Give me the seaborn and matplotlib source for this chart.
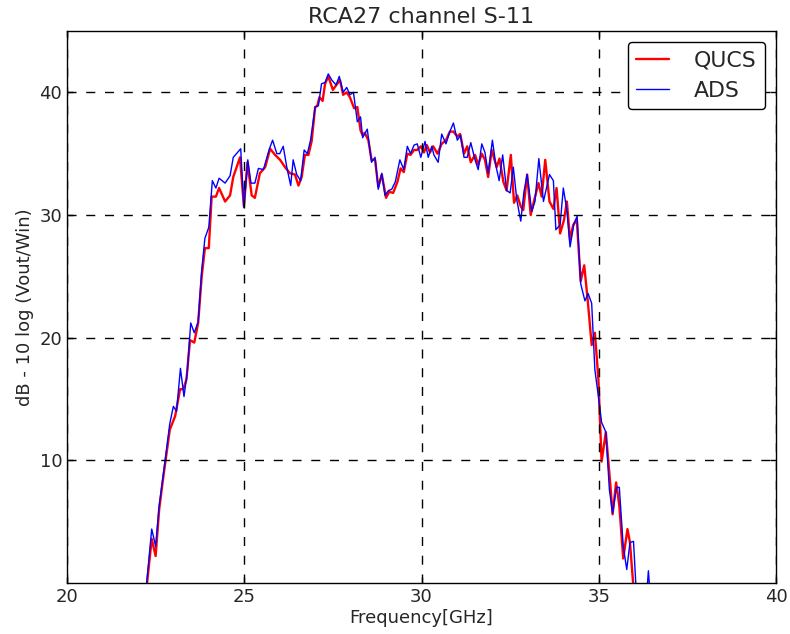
import pandas as pd
import seaborn as sns
import matplotlib
matplotlib.use("Agg")
import matplotlib.pyplot as plt

# frequency points (GHz) and levels (dB)
qucs_freq = [
    22.15, 22.39, 22.50, 22.60, 22.71, 22.81, 22.90, 23.05, 23.19, 23.28,
    23.37, 23.47, 23.59, 23.70, 23.80, 23.89, 24.00, 24.08, 24.20, 24.29,
    24.46, 24.60, 24.69, 24.88, 24.99, 25.09, 25.21, 25.30, 25.44, 25.59,
    25.73, 25.87, 26.01, 26.15, 26.29, 26.43, 26.53, 26.62, 26.71, 26.81,
    26.90, 27.00, 27.06, 27.12, 27.21, 27.28, 27.37, 27.50, 27.61, 27.70,
    27.79, 27.89, 27.98, 28.10, 28.19, 28.28, 28.34, 28.40, 28.50, 28.59,
    28.69, 28.78, 28.88, 29.00, 29.09, 29.20, 29.32, 29.41, 29.50, 29.60,
    29.69, 29.79, 29.88, 29.98, 30.07, 30.15, 30.24, 30.33, 30.45, 30.57,
    30.69, 30.80, 30.90, 31.01, 31.09, 31.20, 31.29, 31.39, 31.51, 31.60,
    31.70, 31.79, 31.88, 31.98, 32.12, 32.20, 32.31, 32.40, 32.52, 32.61,
    32.70, 32.80, 32.87, 32.98, 33.08, 33.17, 33.30, 33.39, 33.49, 33.61,
    33.72, 33.81, 33.91, 34.02, 34.10, 34.19, 34.28, 34.38, 34.49, 34.59,
    34.69, 34.80, 34.89, 34.99, 35.08, 35.20, 35.33, 35.39, 35.49, 35.58,
    35.69, 35.81, 35.88, 36.05,
]
qucs_db = [
    -3.0, 3.6, 2.2, 6.0, 8.5, 10.6, 12.5, 13.6, 15.8, 15.8,
    16.6, 19.8, 19.6, 21.2, 25.0, 27.3, 27.3, 31.5, 31.5, 32.2,
    31.1, 31.6, 33.1, 34.7, 30.7, 34.3, 31.6, 31.4, 33.4, 33.9,
    35.4, 34.9, 34.5, 33.9, 33.4, 33.3, 32.4, 33.1, 34.9, 34.9,
    36.0, 38.8, 38.9, 39.6, 39.3, 40.7, 41.3, 40.2, 40.65, 41.0,
    39.8, 40.0, 39.6, 38.7, 38.8, 36.9, 36.5, 36.7, 36.1, 34.5,
    34.5, 32.3, 33.3, 31.4, 31.9, 31.8, 32.7, 33.8, 33.5, 35.0,
    34.9, 35.3, 35.3, 35.6, 35.1, 35.7, 35.1, 35.6, 35.0, 35.8,
    36.1, 36.8, 36.8, 36.4, 36.6, 35.0, 35.6, 34.3, 34.9, 34.1,
    35.0, 34.5, 33.1, 35.3, 33.9, 34.6, 32.7, 32.0, 34.9, 31.0,
    31.6, 30.7, 30.4, 33.3, 30.0, 31.1, 32.6, 31.5, 34.5, 31.1,
    30.5, 32.2, 28.5, 29.6, 31.1, 28.0, 29.2, 29.6, 24.6, 25.9,
    23.0, 19.4, 20.4, 16.6, 9.9, 12.3, 7.9, 5.6, 8.2, 6.3,
    2.0, 4.4, 3.3, -3.0,
]

ads_freq = [
    22.15, 22.39, 22.50, 22.60, 22.71, 22.81, 22.90, 23.00, 23.09, 23.20,
    23.30, 23.39, 23.49, 23.59, 23.70, 23.80, 23.89, 24.00, 24.10, 24.20,
    24.29, 24.46, 24.60, 24.69, 24.90, 24.99, 25.10, 25.19, 25.30, 25.40,
    25.54, 25.71, 25.80, 25.92, 26.00, 26.10, 26.20, 26.31, 26.38, 26.48,
    26.59, 26.69, 26.78, 26.87, 27.00, 27.09, 27.18, 27.28, 27.37, 27.47,
    27.59, 27.68, 27.79, 27.89, 27.98, 28.08, 28.19, 28.28, 28.34, 28.47,
    28.59, 28.69, 28.78, 28.88, 28.97, 29.07, 29.16, 29.26, 29.39, 29.50,
    29.60, 29.69, 29.79, 29.88, 29.98, 30.10, 30.19, 30.29, 30.35, 30.47,
    30.57, 30.69, 30.80, 30.90, 31.01, 31.10, 31.20, 31.29, 31.39, 31.51,
    31.60, 31.70, 31.79, 31.88, 32.00, 32.10, 32.19, 32.29, 32.40, 32.50,
    32.59, 32.69, 32.80, 32.89, 32.98, 33.11, 33.20, 33.31, 33.44, 33.61,
    33.72, 33.79, 33.91, 34.00, 34.10, 34.19, 34.30, 34.39, 34.49, 34.61,
    34.70, 34.80, 34.89, 34.99, 35.08, 35.20, 35.30, 35.39, 35.50, 35.58,
    35.69, 35.79, 35.88, 35.98, 36.10, 36.30, 36.40, 36.50,
]
ads_db = [
    -3.0, 4.4, 3.0, 6.3, 8.7, 11.0, 13.0, 14.4, 14.0, 17.5,
    15.2, 17.1, 21.2, 20.4, 21.3, 25.5, 28.1, 29.0, 32.8, 32.2,
    33.0, 32.6, 33.2, 34.7, 35.4, 30.6, 34.5, 32.6, 32.6, 33.8,
    33.7, 35.4, 36.1, 35.0, 35.0, 35.6, 33.9, 32.4, 34.5, 33.3,
    32.8, 35.3, 35.0, 36.1, 38.8, 38.9, 40.7, 40.8, 41.5, 41.0,
    40.6, 41.3, 40.0, 40.4, 39.8, 40.0, 37.6, 38.0, 36.3, 37.0,
    34.3, 34.7, 32.1, 33.4, 31.6, 32.0, 32.1, 32.7, 34.5, 33.7,
    35.6, 35.0, 35.7, 35.8, 34.7, 36.0, 34.7, 35.6, 34.9, 34.3,
    36.6, 35.8, 36.8, 37.5, 36.1, 36.5, 34.7, 34.7, 35.9, 34.5,
    33.7, 35.8, 35.1, 33.4, 36.1, 34.0, 32.8, 34.9, 32.0, 31.8,
    33.9, 31.2, 29.5, 31.9, 33.3, 30.3, 31.1, 34.6, 31.1, 33.3,
    32.8, 28.8, 29.2, 32.2, 30.4, 27.4, 29.3, 29.9, 24.4, 23.0,
    23.6, 22.8, 17.4, 15.2, 13.1, 12.3, 7.6, 5.7, 7.8, 7.8,
    3.0, 1.1, 3.3, 3.4, -3.0, -3.0, 1.0, -3.0,
]

sns.set_style("white")
plt.rcParams["font.family"] = ["DejaVu Sans"]
plt.rcParams["xtick.direction"] = "in"
plt.rcParams["ytick.direction"] = "in"

qucs_df = pd.DataFrame({"freq": qucs_freq, "db": qucs_db})
ads_df = pd.DataFrame({"freq": ads_freq, "db": ads_db})

fig = plt.figure(figsize=(7.9, 6.34), dpi=100)
ax = fig.add_axes([0.0848, 0.0804, 0.8975, 0.8707])

sns.lineplot(x="freq", y="db", data=qucs_df, ax=ax, color="#ff0000",
             linewidth=1.7, label="QUCS", sort=False)
sns.lineplot(x="freq", y="db", data=ads_df, ax=ax, color="#0000ff",
             linewidth=1.0, label="ADS", sort=False)

ax.set_xlim(20, 40)
ax.set_ylim(0, 45)
ax.set_xticks([20, 25, 30, 35, 40])
ax.set_yticks([10, 20, 30, 40])
ax.tick_params(labelsize=13, length=4, width=1, color="black",
               top=True, right=True, bottom=True, left=True)
ax.set_axisbelow(False)
ax.grid(True, color="black", linestyle=(0, (6.5, 7)), linewidth=1.0)
for spine in ax.spines.values():
    spine.set_color("black")
    spine.set_linewidth(1.0)

ax.set_title("RCA27 channel S-11", fontsize=16, pad=6)
ax.set_xlabel("Frequency[GHz]", fontsize=13, labelpad=2)
ax.set_ylabel("dB - 10 log (Vout/Win)", fontsize=13, labelpad=4)

legend = ax.legend(loc="upper right", fontsize=15.8, frameon=True, fancybox=True,
                   handlelength=1.5, handletextpad=1.1, borderaxespad=0.5,
                   labelspacing=0.45, borderpad=0.4)
legend.get_frame().set_edgecolor("black")
legend.get_frame().set_linewidth(1.0)
legend.get_frame().set_alpha(1.0)

fig.savefig("out.png", dpi=100)
